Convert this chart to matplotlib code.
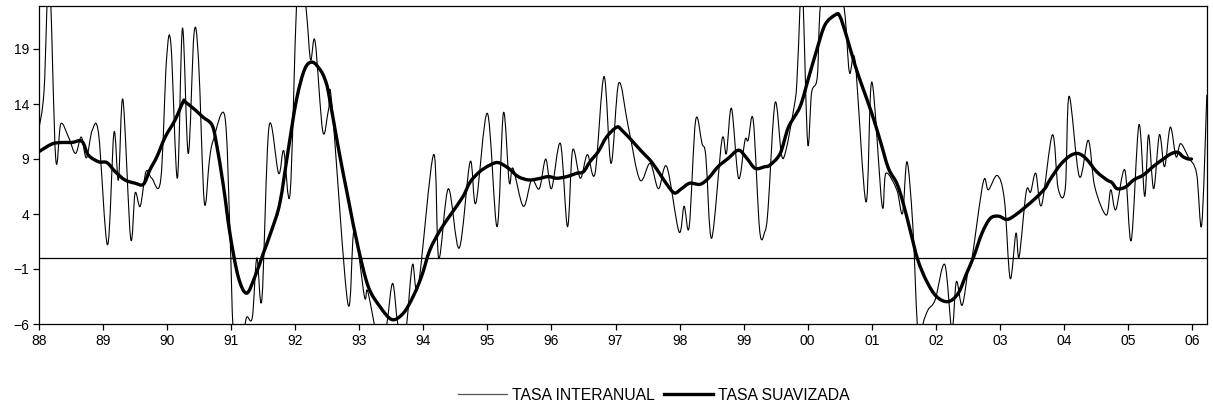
import matplotlib
matplotlib.use("Agg")
import matplotlib.pyplot as plt
from matplotlib.path import Path
from matplotlib.patches import PathPatch
from matplotlib.lines import Line2D
import numpy as np

plt.rcParams['font.family'] = ['Liberation Sans', 'DejaVu Sans']

# Thin line: TASA INTERANUAL (years since 1988, value)
t_inter = [0.00, 0.08, 0.16, 0.26, 0.34, 0.46, 0.57, 0.66, 0.74, 0.83, 0.93, 1.07, 1.17, 1.24, 1.31,
           1.43, 1.50, 1.58, 1.67, 1.76, 1.90, 1.99, 2.06, 2.16, 2.24, 2.33, 2.42, 2.49, 2.58, 2.66,
           2.72, 2.90, 2.98, 3.03, 3.10, 3.18, 3.24, 3.33, 3.40, 3.48, 3.59, 3.74, 3.82, 3.92, 4.02,
           4.09, 4.18, 4.24, 4.31, 4.43, 4.52, 4.57, 4.82, 4.92, 5.08, 5.13, 5.27, 5.35, 5.43, 5.52,
           5.60, 5.68, 5.74, 5.83, 5.92, 6.16, 6.24, 6.39, 6.56, 6.73, 6.82, 7.00, 7.15, 7.25, 7.34,
           7.40, 7.56, 7.69, 7.81, 7.91, 8.00, 8.14, 8.25, 8.33, 8.45, 8.56, 8.68, 8.82, 8.93, 9.05,
           9.20, 9.38, 9.54, 9.67, 9.80, 9.99, 10.07, 10.15, 10.25, 10.35, 10.41, 10.50, 10.66, 10.73,
           10.81, 10.92, 11.02, 11.07, 11.15, 11.25, 11.33, 11.38, 11.49, 11.59, 11.66, 11.78, 11.83,
           11.88, 11.90, 11.93, 12.00, 12.06, 12.15, 12.20, 12.35, 12.56, 12.65, 12.74, 12.91, 13.00,
           13.16, 13.22, 13.39, 13.48, 13.55, 13.64, 13.71, 13.77, 13.80, 13.88, 13.99, 14.14, 14.25,
           14.32, 14.41, 14.51, 14.56, 14.74, 14.82, 14.96, 15.07, 15.16, 15.25, 15.30, 15.41, 15.48,
           15.56, 15.65, 15.82, 15.91, 16.02, 16.08, 16.24, 16.38, 16.48, 16.66, 16.73, 16.81, 16.95,
           17.05, 17.17, 17.26, 17.32, 17.40, 17.49, 17.57, 17.66, 17.75, 17.82, 17.94, 18.07, 18.15,
           18.23]
v_inter = [11.8, 15.3, 26.0, 9.1, 12.2, 11.0, 9.5, 11.0, 9.1, 11.6, 11.3, 1.2, 11.4, 7.1, 14.4,
           1.8, 5.9, 4.7, 7.85, 7.25, 7.1, 18.0, 19.4, 7.25, 20.9, 9.5, 20.4, 18.0, 5.1, 8.9,
           10.7, 12.9, 2.5, -6.5, -8.5, -7.5, -5.4, -5.4, 0.0, -3.7, 11.9, 7.7, 9.75, 5.9, 23.0,
           27.0, 22.0, 18.0, 19.7, 11.5, 13.5, 14.1, -4.1, 2.5, -3.5, -3.0, -7.0, -8.0, -6.0, -2.3,
           -6.0, -7.5, -6.0, -0.6, -2.6, 9.4, 0.0, 6.3, 0.9, 8.75, 5.0, 13.15, 2.85, 13.2, 6.9,
           8.15, 4.7, 7.1, 6.3, 9.0, 6.3, 10.4, 2.85, 9.8, 7.25, 9.4, 7.7, 16.5, 8.6, 15.9,
           11.9, 7.1, 8.6, 6.3, 8.3, 2.4, 4.7, 2.85, 12.5, 10.4, 9.2, 1.8, 10.7, 9.5,
           13.6, 7.25, 10.7, 10.7, 12.5, 2.5, 2.4, 4.4, 14.1, 9.4, 9.8, 13.5, 15.9,
           23.0, 26.0, 23.0, 10.4, 15.0, 16.5, 23.0, 26.0, 23.0, 16.9, 17.85, 5.1, 16.0,
           4.8, 7.7, 6.2, 4.06, 8.75, 3.0, -6.0, -8.0, -6.0, -4.7, -3.8, -0.6, -6.5,
           -2.15, -4.3, -0.9, -0.2, 6.9, 6.2, 7.5, 5.3, -1.85, 2.25, 0.1, 6.0, 6.0,
           7.7, 4.8, 11.2, 6.3, 6.3, 14.7, 7.4, 10.7, 6.5, 3.9, 6.2, 4.4, 8.0,
           1.6, 12.1, 5.6, 11.2, 6.3, 11.2, 8.3, 11.9, 9.2, 10.4, 9.2, 7.7, 3.0,
           14.8]

# Thick line: TASA SUAVIZADA
t_suav = [0.00, 0.20, 0.35, 0.51, 0.67, 0.77, 0.93, 1.06, 1.19, 1.34, 1.50, 1.63, 1.73, 1.84, 1.97,
          2.12, 2.25, 2.28, 2.44, 2.56, 2.70, 2.77, 2.88, 2.98, 3.11, 3.24, 3.37, 3.50, 3.63, 3.76,
          3.89, 4.02, 4.15, 4.27, 4.39, 4.46, 4.52, 4.67, 4.83, 4.98, 5.14, 5.32, 5.51, 5.69, 5.84,
          5.97, 6.10, 6.26, 6.44, 6.62, 6.73, 6.88, 7.04, 7.17, 7.33, 7.48, 7.64, 7.79, 7.95, 8.08,
          8.24, 8.39, 8.50, 8.60, 8.73, 8.86, 9.02, 9.10, 9.25, 9.41, 9.56, 9.72, 9.85, 9.93, 10.03,
          10.16, 10.32, 10.45, 10.60, 10.76, 10.92, 11.05, 11.18, 11.33, 11.41, 11.57, 11.70, 11.88,
          12.01, 12.14, 12.27, 12.43, 12.50, 12.61, 12.74, 12.87, 13.00, 13.13, 13.26, 13.39, 13.49,
          13.60, 13.72, 13.86, 14.01, 14.19, 14.35, 14.48, 14.59, 14.72, 14.85, 14.98, 15.11, 15.24,
          15.39, 15.55, 15.70, 15.78, 15.94, 16.09, 16.22, 16.35, 16.51, 16.67, 16.75, 16.83, 16.96,
          17.09, 17.24, 17.39, 17.55, 17.68, 17.78, 17.86, 17.94, 17.99]
v_suav = [9.67, 10.36, 10.5, 10.5, 10.6, 9.36, 8.75, 8.67, 7.85, 7.1, 6.8, 6.7, 8.0, 9.2, 11.0,
          12.5, 14.2, 14.2, 13.45, 12.8, 12.1, 10.4, 6.5, 2.25, -1.7, -3.2, -1.7, 0.4, 2.5, 5.0,
          9.8, 14.4, 17.2, 17.8, 17.1, 16.3, 15.0, 10.1, 5.3, 1.0, -2.6, -4.4, -5.6, -5.0, -3.5,
          -1.7, 0.7, 2.5, 4.06, 5.6, 6.9, 7.85, 8.45, 8.67, 8.15, 7.4, 7.1, 7.2, 7.4, 7.25,
          7.4, 7.7, 7.85, 8.75, 9.67, 11.0, 11.9, 11.6, 10.7, 9.67, 8.75, 7.4, 6.3, 5.9, 6.3,
          6.8, 6.7, 7.25, 8.3, 9.06, 9.8, 9.06, 8.15, 8.3, 8.45, 9.5, 11.9, 13.75,
          16.3, 18.9, 21.2, 22.1, 22.0, 20.1, 17.5, 15.3, 13.15, 10.7, 8.15, 6.8, 5.0,
          2.5, -0.2, -2.15, -3.5, -3.97, -3.2, -1.4, 0.1, 2.25, 3.6, 3.8, 3.5, 3.9,
          4.6, 5.4, 6.3, 7.1, 8.45, 9.27, 9.5, 9.0, 7.85, 7.1, 6.85, 6.3, 6.45,
          7.1, 7.55, 8.3, 9.0, 9.5, 9.6, 9.2, 9.0, 9.0]

start_year = 1988
years = list(range(1988, 2007))
year_labels = [f"{y % 100:02d}" for y in years]
y_ticks = [-6, -1, 4, 9, 14, 19]
series_names = ['TASA INTERANUAL', 'TASA SUAVIZADA']


def smooth_path(x, y, tension=1/6):
    """Excel-style smoothed line: Catmull-Rom segments drawn as cubic Bezier curves."""
    x = np.asarray(x, float)
    y = np.asarray(y, float)
    n = len(x)
    verts = [(x[0], y[0])]
    codes = [Path.MOVETO]
    for i in range(n - 1):
        p0 = i - 1 if i > 0 else i
        p3 = i + 2 if i + 2 < n else i + 1
        c1 = (x[i] + (x[i + 1] - x[p0]) * tension, y[i] + (y[i + 1] - y[p0]) * tension)
        c2 = (x[i + 1] - (x[p3] - x[i]) * tension, y[i + 1] - (y[p3] - y[i]) * tension)
        verts += [c1, c2, (x[i + 1], y[i + 1])]
        codes += [Path.CURVE4, Path.CURVE4, Path.CURVE4]
    return Path(verts, codes)


fig = plt.figure(figsize=(12.13, 4.15), dpi=100)
ax = fig.add_axes([39/1213, 1 - 324/415, (1207 - 39)/1213, (324 - 6)/415])

xi = start_year + np.array(t_inter)
xs = start_year + np.array(t_suav)
ax.add_patch(PathPatch(smooth_path(xi, v_inter), fill=False, edgecolor='black', lw=0.8,
                       joinstyle='round', capstyle='round'))
ax.add_patch(PathPatch(smooth_path(xs, v_suav), fill=False, edgecolor='black', lw=2.4,
                       joinstyle='round', capstyle='round'))
ax.axhline(0, color='black', lw=0.9)

ax.set_xlim(1988, 1988 + (1207 - 39)/64.06)
ax.set_ylim(-6, -6 + 318/11)
ax.set_xticks(years)
ax.set_xticklabels(year_labels)
ax.set_yticks(y_ticks)
ax.tick_params(axis='both', direction='out', length=4, width=0.9, labelsize=10, colors='black', pad=3)
for s in ax.spines.values():
    s.set_linewidth(0.9)
    s.set_color('black')

handles = [Line2D([], [], color='#555555', lw=0.9), Line2D([], [], color='black', lw=2.4)]
fig.legend(handles, series_names, loc='center', bbox_to_anchor=(0.539, 0.048), ncol=2,
           frameon=False, fontsize=11.3, handlelength=3.1, handletextpad=0.3, columnspacing=0.6)

fig.savefig('out.png', dpi=100)
